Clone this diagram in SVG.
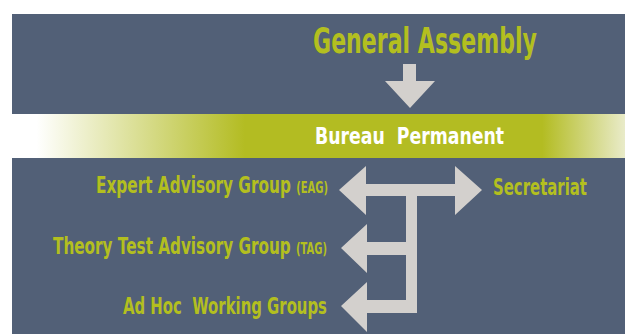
<svg xmlns="http://www.w3.org/2000/svg" width="625" height="334" viewBox="0 0 625 334">
  <defs>
    <linearGradient id="band" x1="12" y1="0" x2="625" y2="0" gradientUnits="userSpaceOnUse">
      <stop offset="0" stop-color="#ffffff"/>
      <stop offset="0.04" stop-color="#ffffff"/>
      <stop offset="0.38" stop-color="#b3bc22"/>
      <stop offset="0.865" stop-color="#b3bc22"/>
      <stop offset="1" stop-color="#e9ebc9"/>
    </linearGradient>
    <style>
      .panel { fill: #526077; }
      .lbl { font-family: "DejaVu Sans", sans-serif; font-weight: bold; fill: #b3bf1f; }
      .white { fill: #ffffff; }
      .arrow { fill: #d3d0cd; }
    </style>
  </defs>
  <rect width="625" height="334" fill="#ffffff"/>
  <rect class="panel" x="12" y="14" width="613" height="100"/>
  <rect x="12" y="114" width="613" height="44" fill="url(#band)"/>
  <rect class="panel" x="12" y="158" width="613" height="176"/>

  <g id="general-assembly" transform="translate(313,53) scale(0.65,1)">
    <text class="lbl" x="0" y="0" font-size="36" textLength="344.6" lengthAdjust="spacingAndGlyphs">General Assembly</text>
  </g>
  <g id="bureau-permanent" transform="translate(315,144) scale(0.65,1)">
    <text class="lbl white" x="0" y="0" font-size="23" textLength="290.8" lengthAdjust="spacingAndGlyphs" xml:space="preserve">Bureau  Permanent</text>
  </g>
  <g id="eag" transform="translate(96,193) scale(0.65,1)">
    <text class="lbl" x="0" y="0" font-size="23" textLength="357" lengthAdjust="spacingAndGlyphs">Expert Advisory Group <tspan font-size="15">(EAG)</tspan></text>
  </g>
  <g id="secretariat" transform="translate(493,195) scale(0.65,1)">
    <text class="lbl" x="0" y="0" font-size="23" textLength="144.6" lengthAdjust="spacingAndGlyphs">Secretariat</text>
  </g>
  <g id="tag" transform="translate(53,254) scale(0.65,1)">
    <text class="lbl" x="0" y="0" font-size="23" textLength="421.5" lengthAdjust="spacingAndGlyphs">Theory Test Advisory Group <tspan font-size="15">(TAG)</tspan></text>
  </g>
  <g id="adhoc" transform="translate(123,314) scale(0.65,1)">
    <text class="lbl" x="0" y="0" font-size="23" textLength="313.8" lengthAdjust="spacingAndGlyphs" xml:space="preserve">Ad Hoc  Working Groups</text>
  </g>

  <g id="connectors">
    <polygon class="arrow" points="403,64 416,64 416,81 435,81 410,108 385,81 403,81"/>
    <polygon class="arrow" points="339,190 366,166 366,184 455,184 455,166 482,190 455,215 455,196 417,196 417,313 367,313 367,332 341,306 367,282 367,300 406,300 406,255 367,255 367,273 341,248 367,224 367,242 406,242 406,196 366,196 366,215"/>
  </g>
</svg>
